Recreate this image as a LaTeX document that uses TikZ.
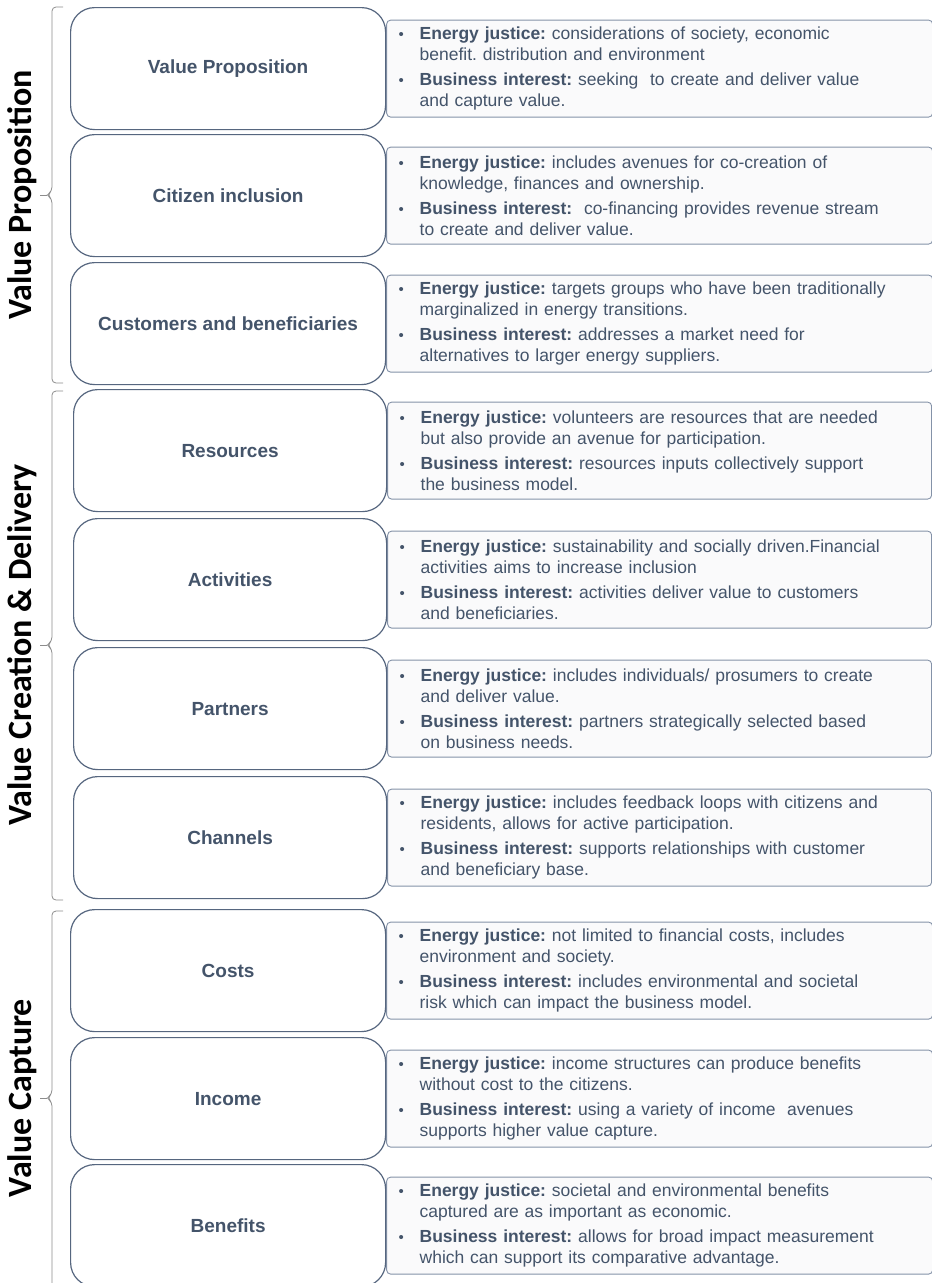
\documentclass[tikz,border=0pt]{standalone}
\usepackage{fontspec}
\setmainfont{Liberation Sans}
\newfontfamily\sidefont{Carlito}
\usetikzlibrary{backgrounds}

\definecolor{slate}{HTML}{44546A}
\definecolor{boxline}{HTML}{56667F}
\definecolor{noteline}{HTML}{8492A8}
\definecolor{notefill}{HTML}{FAFAFB}
\definecolor{bracketline}{HTML}{8C8C8C}

% one bulleted point with a hanging indent
\newcommand{\bul}[2]{\noindent\hangindent=21pt\hangafter=1\makebox[21pt][l]{\fontsize{15}{15}\selectfont\textbullet}\textbf{#1} #2\par}

\begin{document}
\frenchspacing
\begin{tikzpicture}[x=1pt,y=-1pt]
\tikzset{
  stage/.style={draw=boxline, line width=1.2pt, rounded corners=24pt, fill=white,
    minimum width=315pt, minimum height=122pt, anchor=north west, text=slate,
    font=\fontsize{19}{23}\selectfont\bfseries},
  note/.style={draw=noteline, line width=0.9pt, fill=notefill, rounded corners=4pt,
    anchor=west, minimum width=546pt, minimum height=97pt, inner xsep=12pt,
    text width=522pt, align=left, text=slate, font=\fontsize{17.5}{21}\selectfont,
    execute at begin node={\setlength{\parskip}{4pt}}},
  side/.style={rotate=90, anchor=base, font=\sidefont\bfseries\fontsize{34}{38}\selectfont},
  bracket/.style={draw=bracketline, line width=0.8pt, rounded corners=4pt}
}
\useasboundingbox (0,0) rectangle (932,1283);

% group labels and brackets
\node[side] (g-prop) at (31,195) {Value Proposition};
\node[side] (g-deliv) at (31,645) {Value Creation \& Delivery};
\node[side] (g-capt) at (31,1098) {Value Capture};
\draw[bracket] (63,7) -- (52,7) -- (52,191) -- (47,195) -- (52,199) -- (52,383) -- (63,383);
\draw[bracket] (47,195) -- (40,195);
\draw[bracket] (63,391) -- (52,391) -- (52,641) -- (47,645) -- (52,649) -- (52,900) -- (63,900);
\draw[bracket] (47,645) -- (40,645);
\draw[bracket] (63,911) -- (52,911) -- (52,1094) -- (47,1098) -- (52,1102) -- (52,1290);
\draw[bracket] (47,1098) -- (40,1098);

% building blocks
\node[stage] (vp) at (70,7) {Value Proposition};
\node[stage] (ci) at (70,134) {Citizen inclusion};
\node[stage] (cb) at (70,262) {Customers and beneficiaries};
\node[stage, minimum width=313pt] (res) at (73,389) {Resources};
\node[stage, minimum width=313pt] (act) at (73,518) {Activities};
\node[stage, minimum width=313pt] (par) at (73,647) {Partners};
\node[stage, minimum width=313pt] (chan) at (73,776) {Channels};
\node[stage] (cost) at (70,909) {Costs};
\node[stage] (inc) at (70,1037) {Income};
\node[stage] (ben) at (70,1164) {Benefits};

% notes behind the blocks
\begin{scope}[on background layer]
\node[note] (vp-t) at (vp.east) {%
  \bul{Energy justice:}{considerations of society, economic\newline benefit. distribution and environment}%
  \bul{Business interest:}{seeking\ \ to create and deliver value\newline and capture value.}};
\node[note] (ci-t) at (ci.east) {%
  \bul{Energy justice:}{includes avenues for co-creation of\newline knowledge, finances and ownership.}%
  \bul{Business interest:}{\ co-financing provides revenue stream\newline to create and deliver value.}};
\node[note] (cb-t) at (cb.east) {%
  \bul{Energy justice:}{targets groups who have been traditionally\newline marginalized in energy transitions.}%
  \bul{Business interest:}{addresses a market need for\newline alternatives to larger energy suppliers.}};
\node[note, minimum width=544pt, text width=520pt] (res-t) at (res.east) {%
  \bul{Energy justice:}{volunteers are resources that are needed\newline but also provide an avenue for participation.}%
  \bul{Business interest:}{resources inputs collectively support\newline the business model.}};
\node[note, minimum width=544pt, text width=520pt] (act-t) at (act.east) {%
  \bul{Energy justice:}{sustainability and socially driven.Financial\newline activities aims to increase inclusion}%
  \bul{Business interest:}{activities deliver value to customers\newline and beneficiaries.}};
\node[note, minimum width=544pt, text width=520pt] (par-t) at (par.east) {%
  \bul{Energy justice:}{includes individuals/ prosumers to create\newline and deliver value.}%
  \bul{Business interest:}{partners strategically selected based\newline on business needs.}};
\node[note, minimum width=544pt, text width=520pt] (chan-t) at (chan.east) {%
  \bul{Energy justice:}{includes feedback loops with citizens and\newline residents, allows for active participation.}%
  \bul{Business interest:}{supports relationships with customer\newline and beneficiary base.}};
\node[note] (cost-t) at (cost.east) {%
  \bul{Energy justice:}{not limited to financial costs, includes\newline environment and society.}%
  \bul{Business interest:}{includes environmental and societal\newline risk which can impact the business model.}};
\node[note] (inc-t) at (inc.east) {%
  \bul{Energy justice:}{income structures can produce benefits\newline without cost to the citizens.}%
  \bul{Business interest:}{using a variety of income\ \ avenues\newline supports higher value capture.}};
\node[note] (ben-t) at (ben.east) {%
  \bul{Energy justice:}{societal and environmental benefits\newline captured are as important as economic.}%
  \bul{Business interest:}{allows for broad impact measurement\newline which can support its comparative advantage.}};
\end{scope}
\end{tikzpicture}
\end{document}
